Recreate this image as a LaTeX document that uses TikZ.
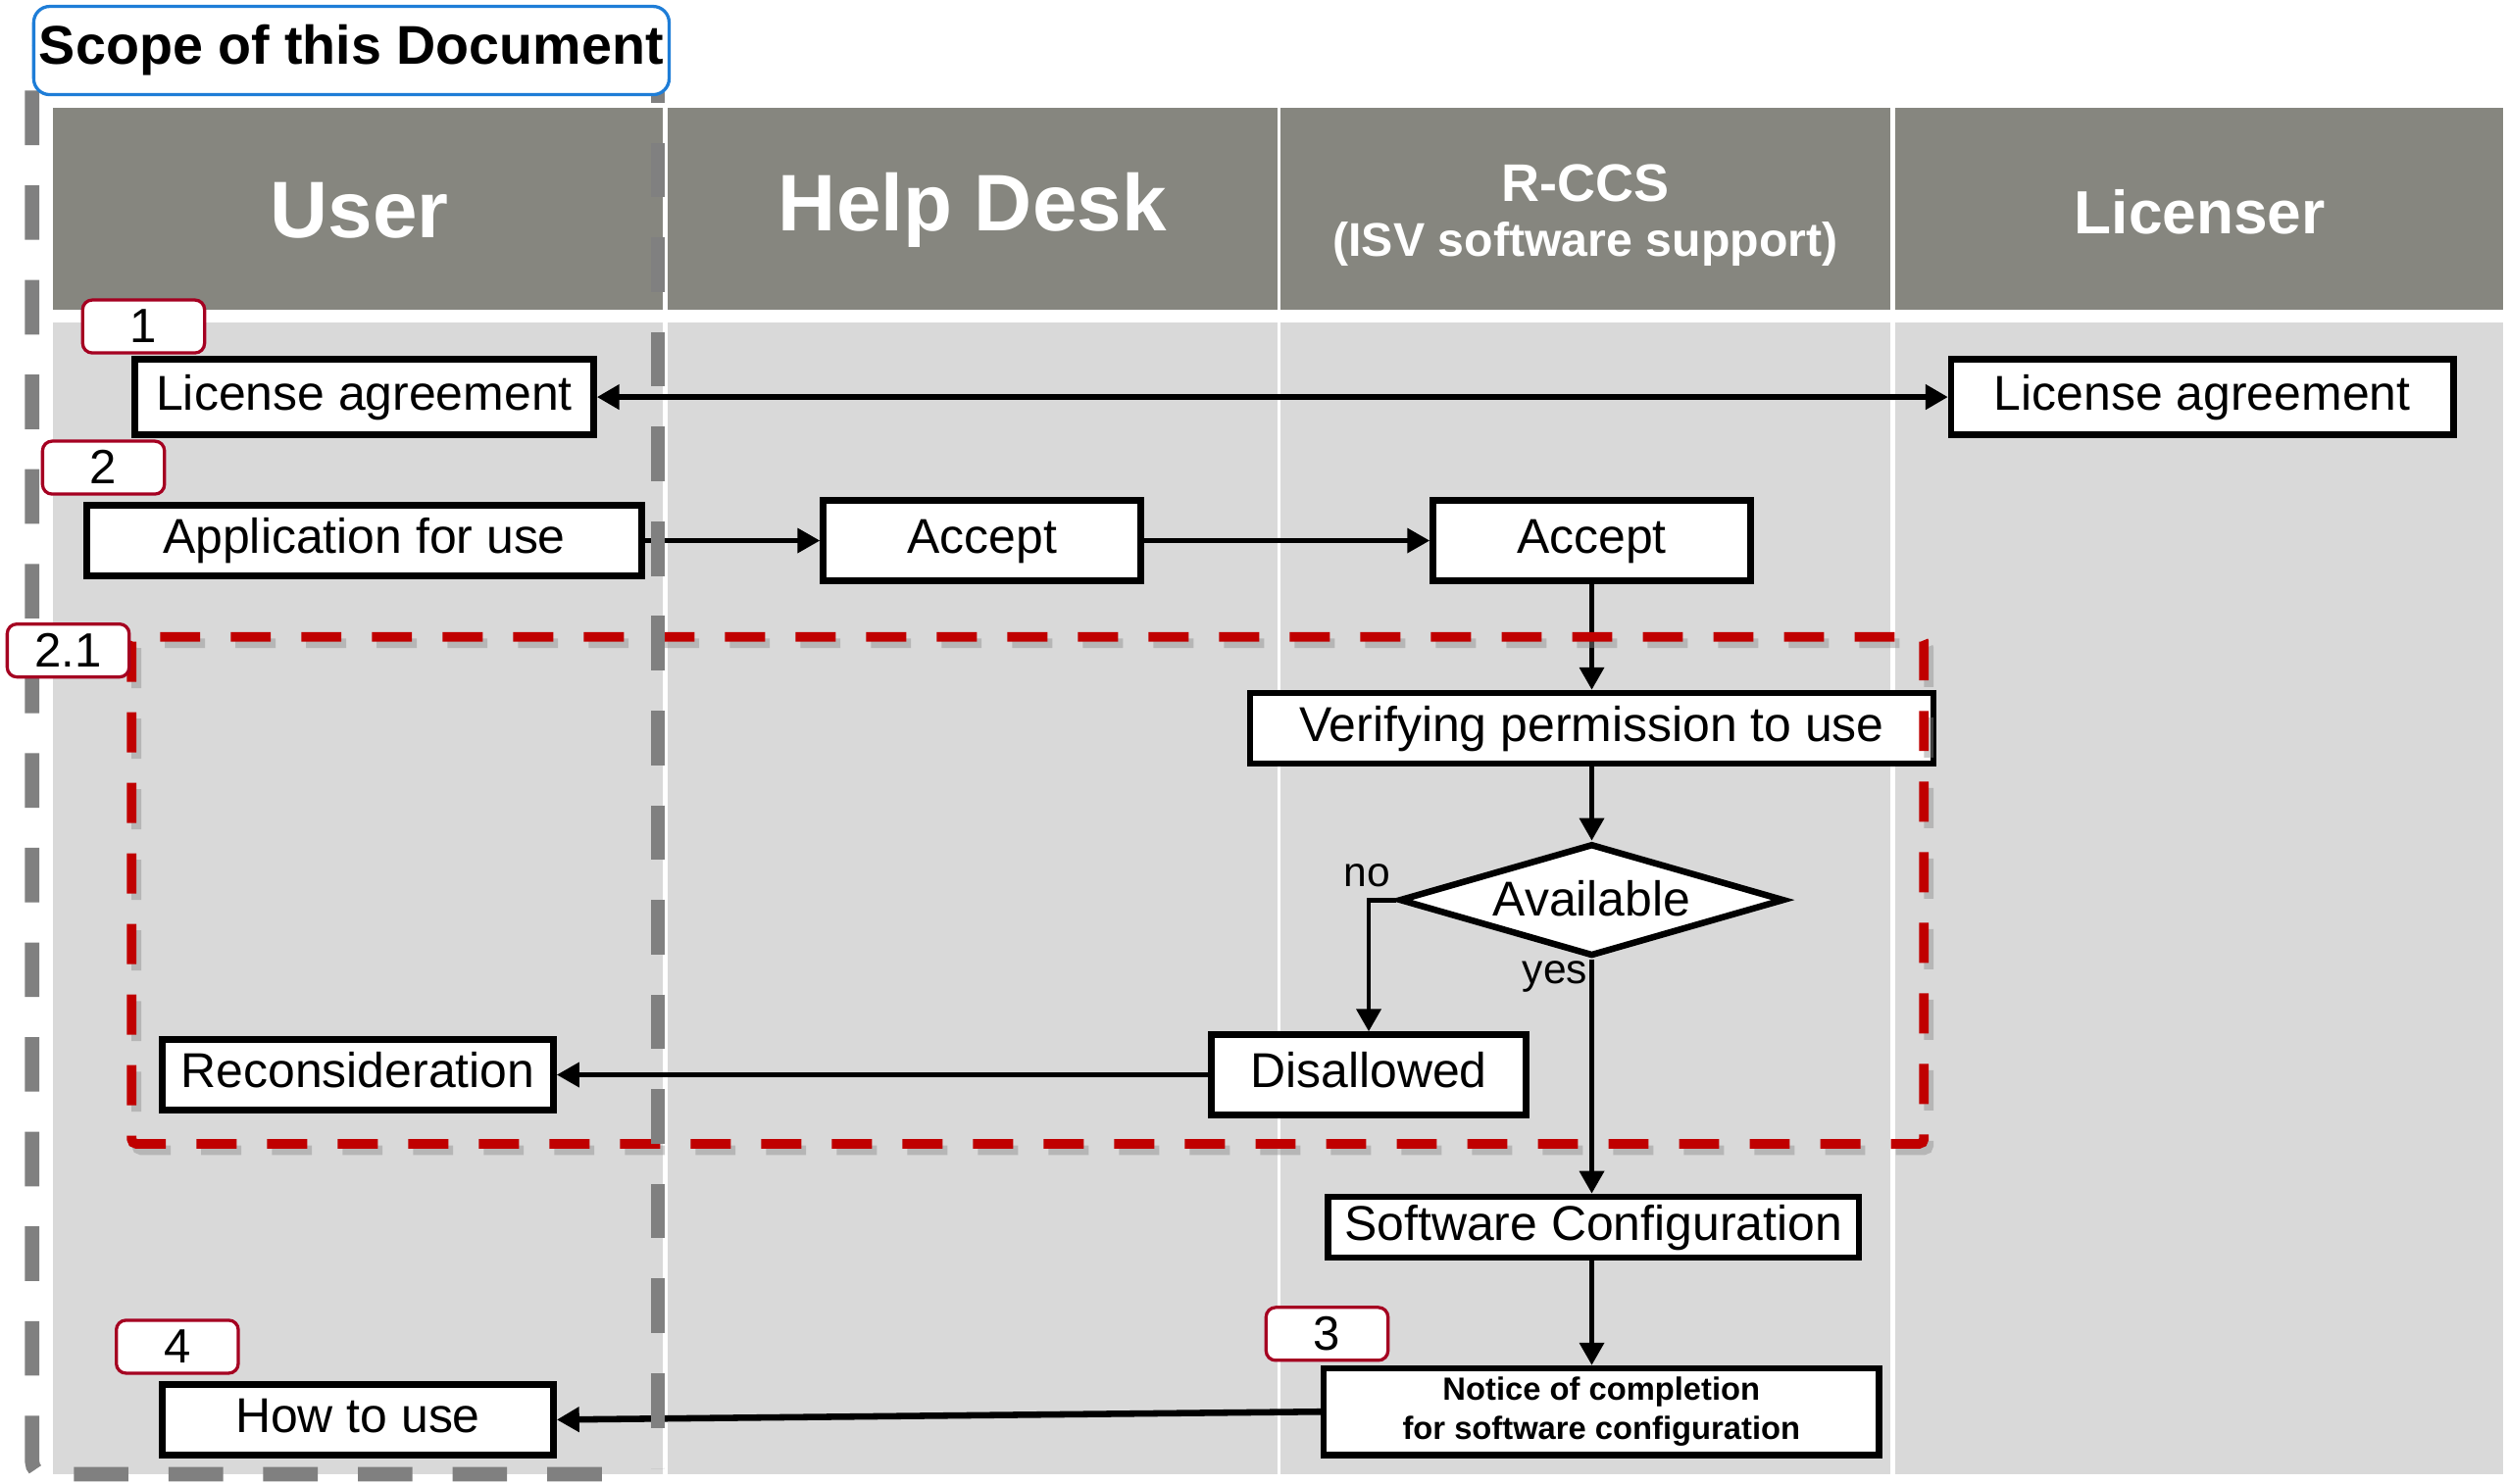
\documentclass[tikz,border=0pt]{standalone}
\usepackage{fontspec}
\setmainfont{Liberation Sans}
\usetikzlibrary{arrows.meta,shapes.geometric}
\definecolor{hdr}{RGB}{134,134,127}
\definecolor{bodyg}{RGB}{217,217,217}
\definecolor{scopeg}{RGB}{128,128,128}
\definecolor{redd}{RGB}{192,0,0}
\definecolor{badger}{RGB}{165,0,33}
\definecolor{blueb}{RGB}{30,125,215}
\begin{document}
\begin{tikzpicture}[x=1pt,y=-1pt,
  box/.style={draw=black,line width=4pt,fill=white,inner sep=0pt,
    font=\fontsize{30.5}{36}\selectfont,text height=22pt,text depth=6pt},
  hdrtext/.style={text=white,inner sep=0pt,font=\bfseries\fontsize{50}{60}\selectfont},
  badge/.style={draw=badger,line width=2pt,fill=white,rounded corners=6pt,inner sep=0pt,
    minimum width=76pt,minimum height=33pt,font=\fontsize{30}{36}\selectfont,
    text height=21pt,text depth=1pt},
  conn/.style={line width=3pt,-{Triangle[length=14pt,width=15pt]}},
  lbl/.style={inner sep=0pt,font=\fontsize{26}{30}\selectfont}
]
\useasboundingbox (0,0) rectangle (1563,924.5);
% lanes
\foreach \a/\b in {33/413,416/796,798/1178,1181/1560}{
  \fill[hdr] (\a,67) rectangle (\b,193);
  \fill[bodyg] (\a,201) rectangle (\b,919);
}
% header texts
\node[hdrtext] (huser) at (224,131) {User};
\node[hdrtext] (hhelp) at (606,131) {Help Desk};
\node[hdrtext,font=\bfseries\fontsize{33}{40}\selectfont] (hrccs) at (988,114) {R-CCS};
\node[hdrtext,font=\bfseries\fontsize{29.5}{36}\selectfont] (hisv) at (988,152) {(ISV software support)};
\node[hdrtext,font=\bfseries\fontsize{38}{46}\selectfont] (hlic) at (1371,132) {Licenser};
% boxes
\node[box,minimum width=286pt,minimum height=47pt] (la1) at (227,247.5) {License agreement};
\node[box,minimum width=313pt,minimum height=47pt] (la2) at (1372.5,247.5) {License agreement};
\node[box,minimum width=346pt,minimum height=44pt] (app) at (227,337) {Application for use};
\node[box,minimum width=198pt,minimum height=50pt] (acc1) at (612,337) {Accept};
\node[box,minimum width=198pt,minimum height=50pt] (acc2) at (992,337) {Accept};
\node[box,minimum width=426pt,minimum height=44pt] (verify) at (992,454) {Verifying permission to use};
\node[box,diamond,shape aspect=3.3,minimum width=240pt,minimum height=70pt,text height=22pt,text depth=2pt] (avail) at (992,561) {Available};
\node[box,minimum width=196pt,minimum height=50pt] (disal) at (853,670) {Disallowed};
\node[box,minimum width=244pt,minimum height=44pt] (recon) at (223,670) {Reconsideration};
\node[box,minimum width=331pt,minimum height=38pt] (softc) at (993,765) {Software Configuration};
\node[box,minimum width=346pt,minimum height=54pt,align=center,
  font=\bfseries\fontsize{20}{24}\selectfont,text height=,text depth=] (notice) at (998,880)
  {Notice of completion\\for software configuration};
\node[box,minimum width=244pt,minimum height=44pt] (howto) at (223,885) {How to use};
% connectors
\draw[line width=4pt,{Triangle[length=14pt,width=15pt]}-{Triangle[length=14pt,width=15pt]}] (la1.east) -- (la2.west);
\draw[conn] (app.east) -- (acc1.west);
\draw[conn] (acc1.east) -- (acc2.west);
\draw[conn] (acc2.south) -- (verify.north -| acc2.south);
\draw[conn] (verify.south -| avail.north) -- (avail.north);
\draw[conn] (avail.west) -| (disal.north);
\draw[conn] (avail.south) -- (avail.south |- softc.north);
\draw[conn] (disal.west) -- (recon.east);
\draw[conn] (softc.south -| avail.south) -- (avail.south |- notice.north);
\draw[line width=4pt,-{Triangle[length=14pt,width=15pt]}] (notice.west) -- (howto.east);
\node[lbl] (no) at (852,546) {no};
\node[lbl] (yes) at (969,609) {yes};
% red dashed region with shadow
\draw[black!45,opacity=0.45,line width=6pt,dash pattern=on 25pt off 19pt,rounded corners=3pt]
  (85,401) rectangle (1202,717);
\draw[redd,line width=6pt,dash pattern=on 25pt off 19pt,rounded corners=3pt]
  (82,397) rectangle (1199,713);
% scope dashed region
\draw[scopeg,line width=9pt,dash pattern=on 34pt off 25pt,rounded corners=8pt]
  (410,30) -- (20,30) -- (20,919) -- (392,919);
\draw[scopeg,line width=9pt,dash pattern=on 34pt off 25pt]
  (410,30) -- (410,915);
\node[draw=blueb,line width=2pt,fill=white,rounded corners=10pt,inner sep=0pt,
  minimum width=396pt,minimum height=55pt,font=\bfseries\fontsize{34}{40}\selectfont] (scope) at (219,31.5) {Scope of this Document};
% badges
\node[badge] (b1) at (89.5,203.5) {1};
\node[badge] (b2) at (64.5,291.5) {2};
\node[badge] (b21) at (42.5,405.5) {2.1};
\node[badge] (b4) at (110.5,839.5) {4};
\node[badge] (b3) at (827,831.5) {3};
\end{tikzpicture}
\end{document}
